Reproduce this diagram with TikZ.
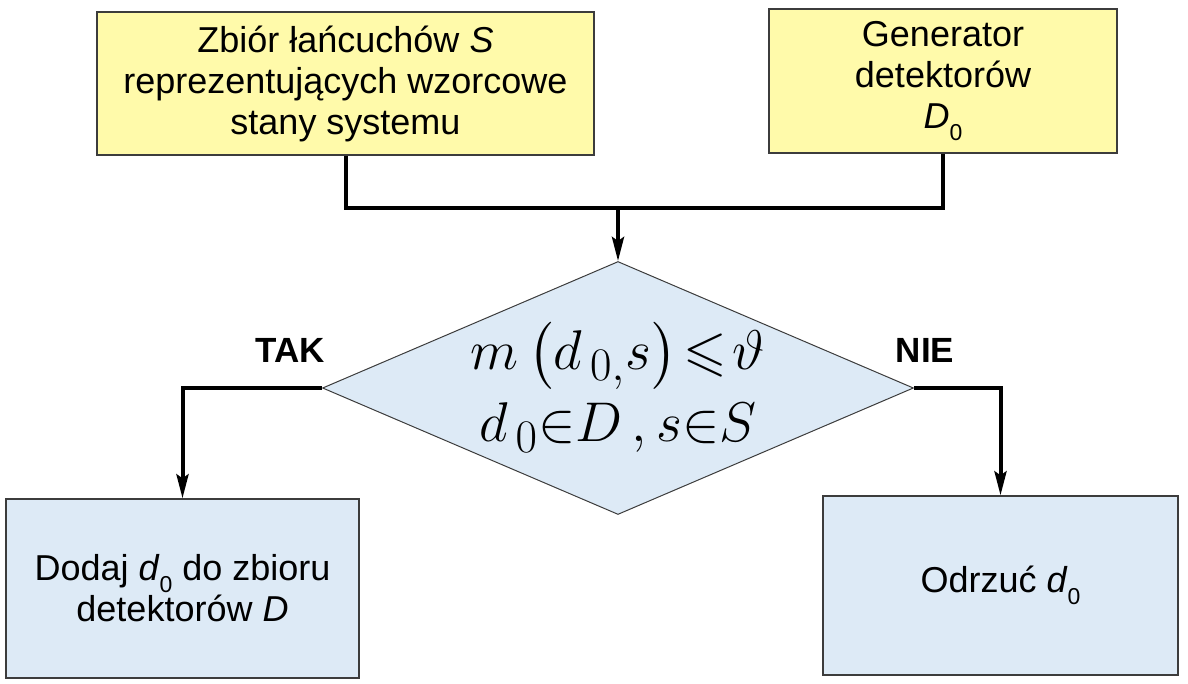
\documentclass[tikz,border=0pt]{standalone}
\usepackage{graphicx}
\usepackage{amssymb}
\usepackage[no-math]{fontspec}
\setmainfont{Liberation Sans}
\usetikzlibrary{arrows.meta,shapes.geometric}
\newcommand{\lowsub}[1]{\raisebox{-12pt}{\fontsize{23}{23}\selectfont #1}}
\definecolor{boxyellow}{RGB}{255,250,170}
\definecolor{boxblue}{RGB}{221,234,246}
\definecolor{edgegray}{RGB}{60,60,60}
\tikzset{
  x=1pt, y=-1pt,
  txt/.style={font=\fontsize{36}{41}\selectfont, align=center},
  ybox/.style={txt, draw=edgegray, line width=1.3pt, fill=boxyellow, inner sep=0pt},
  bbox/.style={txt, draw=edgegray, line width=1.3pt, fill=boxblue, inner sep=0pt},
  conn/.style={line width=4pt, black},
  arr/.style={-{Stealth[length=24pt,width=12pt,inset=4pt]}},
  lbl/.style={font=\fontsize{35}{35}\selectfont\bfseries},
}
\begin{document}
\begin{tikzpicture}
\useasboundingbox (0,0) rectangle (1188,683);
\node[ybox, minimum width=497pt, minimum height=143pt] (zb) at (345.5,83.5)
  {Zbiór łańcuchów \textit{S}\\reprezentujących wzorcowe\\stany systemu};
\node[ybox, minimum width=348pt, minimum height=144pt] (gen) at (943,81)
  {Generator\\detektorów\\\textit{D}\lowsub{0}};
\node[diamond, draw=edgegray, line width=1pt, fill=boxblue, minimum width=591pt, minimum height=253pt, inner sep=0pt] (dia) at (618,388) {};
\node[font=\fontsize{24.88}{30}\selectfont, align=center] (cond) at (618,387)
  {\scalebox{2.25}{$m\left(\rule[-7pt]{0pt}{20pt}d_{\,0,}s\right)\!\leqslant\!\vartheta$}\\[12pt]\scalebox{2.25}{$d_{\,0}{\in}D\,,s{\in}S$}};
\node[bbox, minimum width=353pt, minimum height=179pt] (add) at (182.5,588.5)
  {Dodaj \textit{d}\lowsub{0} do zbioru\\detektorów \textit{D}};
\node[bbox, minimum width=355pt, minimum height=179pt] (rej) at (1000.5,585.5)
  {Odrzuć \textit{d}\lowsub{0}};
\coordinate (j) at (618,208);
\draw[conn] (zb.south) |- (j);
\draw[conn] (gen.south) |- (j);
\draw[conn, arr] (j) -- (dia.north);
\draw[conn, arr] (dia.west) -| (add.north);
\draw[conn, arr] (dia.east) -| (rej.north);
\node[lbl] (tak) at (290,350) {TAK};
\node[lbl] (nie) at (925,350) {NIE};
\end{tikzpicture}
\end{document}
